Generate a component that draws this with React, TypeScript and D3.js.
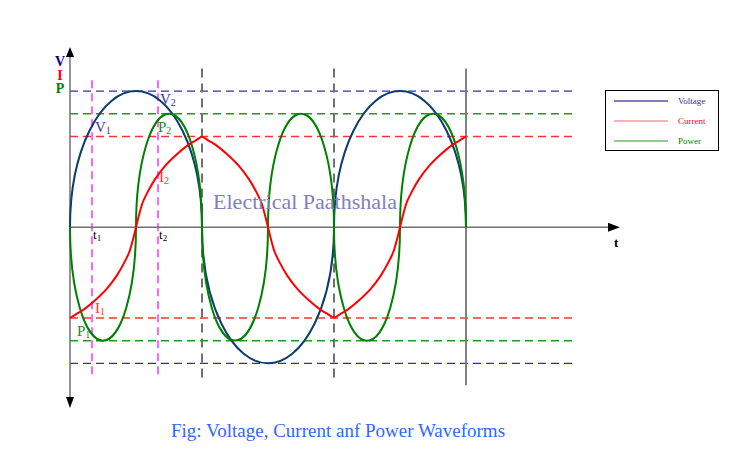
import React from 'react';
import * as d3 from 'd3';

// ---- data (angles in degrees, values in relative units) ----
const voltageZeros = [0, 180, 360, 540];
const voltagePeaks = [1.5, -1.5, 1.5];
const powerZeros = [0, 90, 180, 270, 360, 450, 540];
const powerPeaks = [-1.25, 1.25, -1.25, 1.25, -1.25, 1.25];
const currentExtremes = [0, 180, 360, 540];
const currentPoints: [number, number][] = [
  [0, -1], [10, -0.95], [20, -0.9], [35, -0.8], [50, -0.68], [64, -0.53], [74, -0.39], [81, -0.27], [86, -0.13], [90, 0],
  [94, 0.13], [99, 0.27], [106, 0.39], [116, 0.53], [130, 0.68], [145, 0.8], [160, 0.9], [170, 0.95], [180, 1],
  [190, 0.95], [200, 0.9], [215, 0.8], [230, 0.68], [244, 0.53], [254, 0.39], [261, 0.27], [266, 0.13], [270, 0],
  [274, -0.13], [279, -0.27], [286, -0.39], [296, -0.53], [310, -0.68], [325, -0.8], [340, -0.9], [350, -0.95], [360, -1],
  [370, -0.95], [380, -0.9], [395, -0.8], [410, -0.68], [424, -0.53], [434, -0.39], [441, -0.27], [446, -0.13], [450, 0],
  [454, 0.13], [459, 0.27], [466, 0.39], [476, 0.53], [490, 0.68], [505, 0.8], [520, 0.9], [530, 0.95], [540, 1],
];
const levelValues = [1.5, 1.25, 1, -1, -1.25, -1.5];
const levelSeries = ['V', 'P', 'I', 'I', 'P', 'V'];
const dashedDividers = [180, 360];
const solidDivider = 540;
const markerAngles = [30, 120];
const markerNames = ['t', 't'];
const markerSubs = ['1', '2'];
const legendNames = ['Voltage', 'Current', 'Power'];
const axisLetters = ['V', 'I', 'P'];

const W = 745;
const H = 455;
const SERIF = '"Liberation Serif", "Times New Roman", serif';

const seriesColor: Record<string, string> = { V: '#0b3d6e', I: '#ff0000', P: '#008000' };
const levelColor: Record<string, string> = { V: '#333399', I: '#ff3333', P: '#229922' };
const legendLine = ['#000080', '#ff6666', '#229922'];
const legendText = ['#333399', '#ff0000', '#008000'];
const letterColor = ['#000080', '#ff0000', '#008000'];

export default function App() {
  const x = d3.scaleLinear().domain([0, 540]).range([70, 466]);
  const y = d3.scaleLinear().domain([-1, 1]).range([318, 136.5]);
  const y0 = y(0);

  const lobes = (zeros: number[], peaks: number[]) =>
    zeros
      .slice(0, -1)
      .map((z, i) => {
        const x0 = x(z);
        const x1 = x(zeros[i + 1]);
        const rx = (x1 - x0) / 2;
        const ry = Math.abs(y(peaks[i]) - y0);
        const sweep = peaks[i] > 0 ? 1 : 0;
        return `M${x0},${y0} A${rx},${ry} 0 0 ${sweep} ${x1},${y0}`;
      })
      .join(' ');

  const line = d3
    .line<[number, number]>()
    .x((d) => x(d[0]))
    .y((d) => y(d[1]))
    .curve(d3.curveCatmullRom.alpha(0.5));
  const currentSegs = currentExtremes.slice(0, -1).map((a, i) =>
    currentPoints.filter((p) => p[0] >= a && p[0] <= currentExtremes[i + 1])
  );

  const xEndLevels = x(690);
  const axisColor = '#707070';

  return (
    <svg
      width={W}
      height={H}
      viewBox={`0 0 ${W} ${H}`}
      style={{ position: 'absolute', left: 0, top: 0, background: '#fff' }}
    >
      <rect width={W} height={H} fill="#fff" />

      {/* horizontal reference levels */}
      {levelValues.map((v, i) => (
        <line
          key={'lv' + i}
          x1={x(0)}
          x2={xEndLevels}
          y1={y(v)}
          y2={y(v)}
          stroke={levelColor[levelSeries[i]]}
          strokeWidth={1.4}
          strokeDasharray="8,5"
        />
      ))}

      {/* vertical dividers */}
      {dashedDividers.map((a, i) => (
        <line
          key={'dd' + i}
          x1={x(a)}
          x2={x(a)}
          y1={y(1.75)}
          y2={y(-1.7)}
          stroke="#707070"
          strokeWidth={2}
          strokeDasharray="9,6"
        />
      ))}
      <line x1={x(solidDivider)} x2={x(solidDivider)} y1={y(1.75)} y2={y(-1.74)} stroke="#808080" strokeWidth={2} />

      {/* t markers */}
      {markerAngles.map((a, i) => (
        <line
          key={'mk' + i}
          x1={x(a)}
          x2={x(a)}
          y1={y(1.62)}
          y2={y(-1.63)}
          stroke="#ff66ff"
          strokeWidth={2}
          strokeDasharray="8,5"
        />
      ))}

      {/* axes */}
      <line x1={x(0)} x2={610} y1={y0} y2={y0} stroke={axisColor} strokeWidth={1.5} />
      <path d={`M608,${y0 - 4.5} L620,${y0} L608,${y0 + 4.5} Z`} fill="#000" />
      <line x1={x(0)} x2={x(0)} y1={55} y2={400} stroke={axisColor} strokeWidth={1.5} />
      <path d={`M${x(0) - 4},57 L${x(0)},47 L${x(0) + 4},57 Z`} fill="#000" />
      <path d={`M${x(0) - 4},397 L${x(0)},408 L${x(0) + 4},397 Z`} fill="#000" />

      {/* curves */}
      <path d={lobes(voltageZeros, voltagePeaks)} fill="none" stroke={seriesColor.V} strokeWidth={2} />
      <path d={lobes(powerZeros, powerPeaks)} fill="none" stroke={seriesColor.P} strokeWidth={2} />
      {currentSegs.map((s, i) => (
        <path key={'cs' + i} d={line(s) || ''} fill="none" stroke={seriesColor.I} strokeWidth={2} />
      ))}

      {/* watermark */}
      <text x={305} y={209} textAnchor="middle" fontFamily={SERIF} fontSize={22} fill="#8080c0">
        Electrical Paathshala
      </text>

      {/* axis letters */}
      {axisLetters.map((l, i) => (
        <text
          key={'al' + i}
          x={60}
          y={66 + i * 13.5}
          textAnchor="middle"
          fontFamily={SERIF}
          fontWeight="bold"
          fontSize={14}
          fill={letterColor[i]}
        >
          {l}
        </text>
      ))}
      <text x={614} y={247} fontFamily={SERIF} fontWeight="bold" fontSize={13} fill="#000">
        t
      </text>

      {/* t labels */}
      {markerAngles.map((a, i) => (
        <text key={'tl' + i} x={x(a) + 1} y={239} fontFamily={SERIF} fontSize={13} fill="#000">
          {markerNames[i]}
          <tspan fontSize={9} dy={2}>
            {markerSubs[i]}
          </tspan>
        </text>
      ))}

      {/* curve annotations */}
      <text x={95} y={132} fontFamily={SERIF} fontSize={15} fill="#333399">
        V<tspan fontSize={10} dy={2}>1</tspan>
      </text>
      <text x={160} y={104} fontFamily={SERIF} fontSize={15} fill="#333399">
        V<tspan fontSize={10} dy={2}>2</tspan>
      </text>
      <text x={158} y={132} fontFamily={SERIF} fontSize={15} fill="#228b22">
        P<tspan fontSize={10} dy={2}>2</tspan>
      </text>
      <text x={159} y={182} fontFamily={SERIF} fontSize={15} fill="#ff3333">
        I<tspan fontSize={10} dy={2}>2</tspan>
      </text>
      <text x={95} y={313} fontFamily={SERIF} fontSize={15} fill="#ff3333">
        I<tspan fontSize={10} dy={2}>1</tspan>
      </text>
      <text x={77} y={336} fontFamily={SERIF} fontSize={15} fill="#228b22">
        P<tspan fontSize={10} dy={2}>1</tspan>
      </text>

      {/* legend */}
      <rect x={605.5} y={90.5} width={113} height={60} fill="#fff" stroke="#000" strokeWidth={1} />
      {legendNames.map((n, i) => (
        <g key={'lg' + i}>
          <line x1={614} x2={668} y1={101 + i * 20} y2={101 + i * 20} stroke={legendLine[i]} strokeWidth={1} />
          <text x={678} y={104 + i * 20} fontFamily={SERIF} fontSize={9} fill={legendText[i]}>
            {n}
          </text>
        </g>
      ))}

      {/* caption */}
      <text x={338} y={437} textAnchor="middle" fontFamily={SERIF} fontSize={19} fill="#3366ff">
        Fig: Voltage, Current anf Power Waveforms
      </text>
    </svg>
  );
}
